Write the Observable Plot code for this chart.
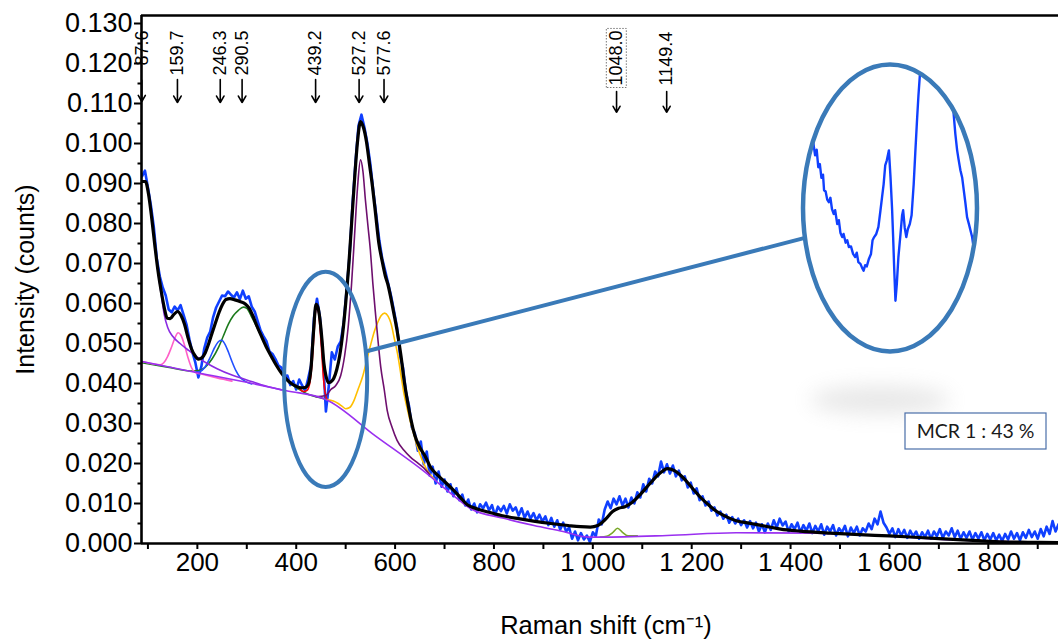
<!DOCTYPE html>
<html><head><meta charset="utf-8">
<script src="https://cdn.jsdelivr.net/npm/d3@7"></script>
<script src="https://cdn.jsdelivr.net/npm/@observablehq/plot@0.6"></script>
<style>
html,body{margin:0;padding:0;background:#fff;}
#chart{position:relative;width:1058px;height:641px;overflow:hidden;background:#fff;}
</style></head><body><div id="chart"></div>
<script>
// ---------- data ----------
const rawStart = 88, rawStep = 6; // instrument sampling grid (cm-1)
const rawIntensity = [
.0918,.0932,.0890,.0845,.0790,.0712,.0668,.0640,.0620,.0585,
.0578,.0592,.0583,.0596,.0572,.0548,.0510,.0478,.0452,.0415,
.0442,.0488,.0515,.0530,.0566,.0590,.0605,.0620,.0618,.0630,
.0622,.0615,.0628,.0611,.0632,.0612,.0618,.0592,.0580,.0556,
.0532,.0518,.0505,.0480,.0474,.0461,.0445,.0440,.0418,.0420,
.0396,.0406,.0385,.0410,.0395,.0382,.0412,.0445,.0565,.0612,
.0565,.0470,.0330,.0395,.0478,.0460,.0492,.0505,.0552,.0635,
.0722,.0850,.0955,.1045,.1072,.1040,.1000,.0948,.0880,.0820,
.0758,.0712,.0682,.0650,.0618,.0580,.0540,.0470,.0440,.0378,
.0345,.0290,.0275,.0232,.0255,.0198,.0230,.0170,.0192,.0150,
.0180,.0142,.0160,.0130,.0148,.0118,.0138,.0108,.0122,.0095,
.0110,.0085,.0100,.0078,.0098,.0088,.0102,.0083,.0096,.0070,
.0092,.0081,.0094,.0075,.0098,.0082,.0090,.0070,.0088,.0064,
.0080,.0062,.0076,.0058,.0072,.0055,.0068,.0046,.0064,.0042,
.0058,.0035,.0052,.0030,.0040,.0012,.0030,.0008,.0026,.0010,
.0020,.0004,.0028,.0018,.0060,.0048,.0085,.0105,.0088,.0112,
.0098,.0118,.0095,.0112,.0090,.0115,.0100,.0128,.0115,.0148,
.0130,.0162,.0150,.0180,.0168,.0205,.0178,.0198,.0175,.0195,
.0168,.0182,.0158,.0168,.0140,.0152,.0125,.0138,.0108,.0118,
.0095,.0105,.0082,.0090,.0070,.0080,.0062,.0072,.0052,.0066,
.0050,.0062,.0046,.0058,.0040,.0056,.0038,.0052,.0030,.0048,
.0028,.0050,.0034,.0058,.0040,.0062,.0045,.0055,.0030,.0048,
.0036,.0052,.0028,.0046,.0032,.0050,.0026,.0044,.0030,.0048,
.0022,.0042,.0030,.0046,.0020,.0038,.0028,.0044,.0018,.0040,
.0026,.0042,.0020,.0038,.0030,.0050,.0036,.0062,.0048,.0080,
.0052,.0040,.0024,.0038,.0016,.0036,.0020,.0034,.0014,.0032,
.0018,.0030,.0012,.0028,.0016,.0032,.0012,.0030,.0018,.0036,
.0014,.0030,.0020,.0038,.0016,.0032,.0012,.0028,.0014,.0030,
.0010,.0026,.0012,.0028,.0008,.0024,.0010,.0026,.0008,.0022,
.0006,.0024,.0010,.0030,.0012,.0026,.0008,.0028,.0014,.0034,
.0016,.0030,.0012,.0036,.0018,.0042,.0024,.0056,.0030,.0048];

const fitShift = [88,95,101,108,114,120,127,133,139,145,152,160,167,174,181,188,195,202,209,216,223,230,237,244,251,258,266,276,286,297,305,312,320,330,340,350,360,370,380,390,400,410,418,424,430,435,440,444,448,452,456,460,465,470,476,482,488,494,500,506,512,518,524,530,536,542,548,554,560,567,574,580,586,592,598,605,612,618,625,632,640,650,660,672,685,700,715,730,746,765,790,815,850,880,915,950,975,995,1010,1025,1040,1052,1065,1080,1097,1112,1125,1138,1151,1165,1178,1192,1205,1218,1232,1245,1259,1275,1290,1320,1350,1380,1420,1480,1540,1600,1660,1720,1780,1830,1880,1942];
const fitIntensity = [.0905,.0905,.0875,.0810,.0745,.0685,.0630,.0590,.0563,.0562,.0572,.0580,.0570,.0548,.0515,.0487,.0470,.0461,.0464,.0477,.0500,.0527,.0553,.0578,.0598,.0610,.0612,.0609,.0605,.0599,.0588,.0570,.0545,.0517,.0490,.0467,.0445,.0426,.0411,.0400,.0393,.0389,.0390,.0397,.0440,.0530,.0598,.0590,.0560,.0510,.0450,.0420,.0402,.0404,.0413,.0435,.0470,.0525,.0600,.0690,.0800,.0910,.1005,.1055,.1040,.1005,.0950,.0895,.0830,.0752,.0705,.0670,.0645,.0610,.0572,.0525,.0468,.0410,.0356,.0310,.0270,.0240,.0220,.0190,.0172,.0155,.0137,.0118,.0097,.0087,.0078,.0070,.0062,.0056,.0050,.0045,.0042,.0041,.0045,.0060,.0080,.0088,.0092,.0103,.0124,.0145,.0163,.0178,.0187,.0182,.0170,.0152,.0133,.0115,.0099,.0085,.0074,.0064,.0057,.0050,.0043,.0036,.0031,.0026,.0022,.0019,.0015,.0011,.0007,.0004,.0003,.0002];

const baselinePts = [[88,.0455],[200,.0427],[300,.0403],[380,.0382],[460,.0360],[560,.0269],[665,.0174],[710,.0128],[753,.0087],[820,.0063],[881,.0045],[940,.0030],[990,.0016],[1016,.0016],[1150,.0020],[1290,.0027],[1450,.0026],[1600,.0018],[1750,.0008],[1942,.0002]];
const band088 = [[88,.0905],[95,.0905],[101,.0875],[108,.0810],[114,.0745],[120,.0683],[127,.0622],[133,.0572],[140,.0540],[150,.0518],[165,.0500],[180,.0485],[200,.0466],[220,.0450],[240,.0437],[270,.0421],[300,.0409],[340,.0393],[370,.0384]];
const band160 = [[88,.0455],[110,.0449],[125,.0447],[132,.0452],[140,.0468],[148,.0492],[155,.0515],[161,.0527],[167,.0520],[174,.0496],[181,.0465],[188,.0440],[195,.0428],[210,.0423],[240,.0414],[270,.0406]];
const band246 = [[195,.0428],[205,.0430],[215,.0440],[225,.0463],[235,.0490],[243,.0505],[249,.0508],[256,.0498],[263,.0478],[270,.0455],[278,.0432],[286,.0416],[296,.0406],[310,.0399]];
const band290 = [[88,.0452],[140,.0441],[190,.0431],[205,.0433],[216,.0441],[230,.0462],[243,.0491],[253,.0520],[263,.0549],[273,.0570],[283,.0583],[293,.0591],[300,.0588],[310,.0566],[320,.0542],[330,.0516],[340,.0491],[350,.0467],[360,.0445],[371,.0426],[381,.0410],[391,.0398],[405,.0386],[420,.0375],[440,.0367],[460,.0361]];
const band439 = [[405,.0390],[415,.0380],[422,.0383],[428,.0405],[432,.0450],[436,.0525],[439,.0580],[442,.0598],[445,.0580],[448,.0540],[452,.0470],[455,.0415],[458,.0380],[462,.0360]];
const band527 = [[440,.0367],[460,.0370],[470,.0385],[480,.0395],[490,.0420],[498,.0470],[505,.0540],[512,.0650],[518,.0770],[524,.0890],[530,.0959],[535,.0930],[540,.0858],[545,.0795],[550,.0733],[555,.0650],[561,.0566],[566,.0500],[571,.0441],[578,.0385],[584,.0333],[594,.0290],[604,.0258],[618,.0233],[631,.0216],[645,.0202],[658,.0189],[670,.0172]];
const band578 = [[462,.0360],[475,.0356],[485,.0350],[493,.0343],[500,.0337],[508,.0340],[517,.0358],[525,.0385],[534,.0416],[543,.0460],[551,.0499],[558,.0530],[565,.0553],[572,.0570],[579,.0576],[586,.0568],[592,.0549],[598,.0515],[605,.0474],[612,.0420],[618,.0374],[625,.0335],[632,.0299],[639,.0268],[645,.0241],[655,.0208],[665,.0183],[680,.0160]];
const band1048 = [[1015,.0016],[1028,.0018],[1040,.0027],[1050,.0038],[1060,.0028],[1072,.0019],[1090,.0019]];

const peakShift = [87.6,159.7,246.3,290.5,439.2,527.2,577.6,1048.0,1149.4];
const peakLabel = ["87.6","159.7","246.3","290.5","439.2","527.2","577.6","1048.0","1149.4"];
const boxedLabel = "1048.0";

const yTicks = [0,0.01,0.02,0.03,0.04,0.05,0.06,0.07,0.08,0.09,0.10,0.11,0.12,0.13];
const yMinorTicks = [0.005,0.015,0.025,0.035,0.045,0.055,0.065,0.075,0.085,0.095,0.105,0.115,0.125];
const xTicks = [200,400,600,800,1000,1200,1400,1600,1800];
const xMinorTicks = [100,300,500,700,900,1100,1300,1500,1700,1900];

const insetShift = [400,404,406,407.5,409,410.5,412,413.5,414.5,416,417.5,419,420.5,422,423.7,425,427,428.5,430,431.7,433,435,436.5,438,440,442,444,445.5,447,449,450.5,452,453.5,455,457,459,460.5,462,464,466,468,469.5,471,472.5,474,476,477.5,479,480,481,482.2,483.5,485,487,488.5,489.5,491,492.5,494,495.8,497.5,499.5,501,502.8,504,505.2,507,515,525,535,537.5,539,540.7,542,543.8,545.5,547,548.5,550.1,552,554.9,557];
const insetIntensity = [.0625,.0600,.0576,.0585,.0557,.0562,.0540,.0545,.0520,.0518,.0505,.0501,.0508,.0490,.0482,.0488,.0466,.0472,.0452,.0445,.0450,.0436,.0440,.0429,.0430,.0418,.0413,.0420,.0405,.0402,.0396,.0391,.0400,.0398,.0410,.0418,.0440,.0445,.0450,.0461,.0488,.0509,.0530,.0560,.0568,.0584,.0541,.0490,.0445,.0395,.0343,.0370,.0413,.0450,.0480,.0488,.0460,.0445,.0458,.0466,.0480,.0530,.0580,.0637,.0672,.0701,.0750,.0850,.0850,.0720,.0640,.0610,.0584,.0570,.0552,.0540,.0520,.0500,.0477,.0465,.0445,.0420];

const yTitle = "Intensity (counts)";
const xTitle = "Raman shift (cm\u207B\u00B9)";
const mcrLabel = "MCR 1 : 43 %";

// ---------- build ----------
const rawColor = "#1040ff";
const raw = rawIntensity.map((v, i) => ({x: rawStart + i * rawStep, y: v}));
const fit = fitShift.map((x, i) => ({x, y: fitIntensity[i]}));
const components = [
  {pts: band290, color: "#1c7a1c"},
  {pts: band160, color: "#ff5fc8"},
  {pts: band246, color: "#2250ff"},
  {pts: band439, color: "#ff0000"},
  {pts: band578, color: "#ffbf00"},
  {pts: band527, color: "#6e0f6e"},
  {pts: band088, color: "#8a2be2"},
  {pts: band1048, color: "#7aa82a"},
  {pts: baselinePts, color: "#9a30f0"}
];
function place(s) {
  if (s < 100) return {t: 0.1195, a1: 0.1158, a2: 0.1105};
  if (s > 1000) return {t: 0.1145, a1: 0.1130, a2: 0.1078};
  return {t: 0.1170, a1: 0.1160, a2: 0.11025};
}
const peaks = peakShift.map((s, i) => ({x: s, label: peakLabel[i], ...place(s)}));
const thousands = d3.formatLocale({decimal: ".", thousands: " ", grouping: [3], currency: ["", ""]}).format(",");

const xDomain = [87, 1942], yDomain = [0, 0.132];

const chart = Plot.plot({
  width: 1058, height: 641,
  marginLeft: 141, marginRight: 0, marginTop: 15, marginBottom: 98,
  x: {domain: xDomain},
  y: {domain: yDomain},
  style: {fontFamily: "'Liberation Sans', Arial, sans-serif", background: "#fff", color: "#000"},
  marks: [
    Plot.line(raw, {x: "x", y: "y", stroke: rawColor, strokeWidth: 2.6, clip: true}),
    ...components.map(c => Plot.line(c.pts, {x: d => d[0], y: d => d[1], stroke: c.color, strokeWidth: 1.6, curve: "monotone-x", clip: true})),
    Plot.line(fit, {x: "x", y: "y", stroke: "#000", strokeWidth: 3.2, curve: "monotone-x", clip: true}),
    Plot.arrow(peaks, {x1: "x", x2: "x", y1: "a1", y2: "a2", stroke: "#000", strokeWidth: 1.6, headLength: 7}),
    Plot.text(peaks, {x: "x", y: "t", text: "label", rotate: -90, textAnchor: "start", lineAnchor: "middle", fontSize: 18, fill: "#000"}),
    Plot.axisY({ticks: yTicks, tickFormat: d3.format(".3f"), tickSize: 7, tickPadding: 2, fontSize: 27, label: null, strokeWidth: 2}),
    Plot.axisY({ticks: yMinorTicks, tickFormat: () => "", tickSize: 3.5, label: null, strokeWidth: 2}),
    Plot.axisX({ticks: xTicks, tickFormat: thousands, tickSize: 6, tickPadding: 3, fontSize: 26, label: null, strokeWidth: 2}),
    Plot.axisX({ticks: xMinorTicks, tickFormat: () => "", tickSize: 6, label: null, strokeWidth: 2}),
    Plot.ruleX([xDomain[0]], {strokeWidth: 2.6}),
    Plot.ruleY([yDomain[0]], {strokeWidth: 2.6}),
    Plot.ruleY([yDomain[1]], {strokeWidth: 2.6}),
    Plot.text([yTitle], {frameAnchor: "left", textAnchor: "middle", rotate: -90, dx: -116, fontSize: 25, fill: "#000"}),
    Plot.text([xTitle], {frameAnchor: "bottom", textAnchor: "middle", dx: 6, dy: 82, lineAnchor: "middle", fontSize: 25.5, fill: "#000"})
  ]
});
const root = document.getElementById("chart");
chart.style.position = "absolute"; chart.style.left = "0"; chart.style.top = "0";
root.append(chart);
const xs = chart.scale("x"), ys = chart.scale("y");

// dotted box around the boxed peak label
d3.select(chart).selectAll("text").filter(function () { return this.textContent === boxedLabel; }).each(function () {
  const bb = this.getBBox();
  d3.select(this.parentNode).append("rect")
    .attr("transform", this.getAttribute("transform"))
    .attr("x", bb.x - 2).attr("y", bb.y).attr("width", bb.width + 4).attr("height", bb.height)
    .attr("fill", "none").attr("stroke", "#777").attr("stroke-width", 1).attr("stroke-dasharray", "1.5,1.5");
});

// magnified inset
const big = {cx: 890, cy: 208, rx: 87, ry: 143.5};
const insetData = insetShift.map((x, i) => ({x, y: insetIntensity[i]}));
const inset = Plot.plot({
  width: 2 * big.rx, height: 2 * big.ry, margin: 0,
  x: {domain: [395, 560], axis: null}, y: {domain: [0.026, 0.072], axis: null},
  style: {background: "transparent"},
  marks: [Plot.line(insetData, {x: "x", y: "y", stroke: rawColor, strokeWidth: 2.4})]
});
const insetBox = document.createElement("div");
Object.assign(insetBox.style, {position: "absolute", left: (big.cx - big.rx) + "px", top: (big.cy - big.ry) + "px",
  width: 2 * big.rx + "px", height: 2 * big.ry + "px",
  clipPath: `ellipse(${big.rx}px ${big.ry}px at ${big.rx}px ${big.ry}px)`});
insetBox.append(inset);
root.append(insetBox);

// overlay annotations
const ov = d3.create("svg").attr("width", 1058).attr("height", 641)
  .style("position", "absolute").style("left", 0).style("top", 0).style("pointer-events", "none");
ov.append("defs").append("filter").attr("id", "blur").attr("x", "-50%").attr("y", "-100%").attr("width", "200%").attr("height", "300%")
  .append("feGaussianBlur").attr("stdDeviation", 10);
ov.append("ellipse").attr("cx", 880).attr("cy", 400).attr("rx", 70).attr("ry", 14).attr("fill", "#cccccc").attr("opacity", 0.45).attr("filter", "url(#blur)");
const ringColor = "#3a7ab8";
const zc = {x: 460.5, y: 0.0409, hx: 84, hy: 0.0269};
const scx = xs.apply(zc.x), scy = ys.apply(zc.y);
const srx = xs.apply(zc.x + zc.hx) - scx, sry = ys.apply(zc.y - zc.hy) - scy;
ov.append("ellipse").attr("cx", scx).attr("cy", scy).attr("rx", srx).attr("ry", sry)
  .attr("fill", "none").attr("stroke", ringColor).attr("stroke-width", 4);
const a0 = 15 * Math.PI / 180, a1 = 168 * Math.PI / 180;
ov.append("line")
  .attr("x1", scx + srx * Math.cos(a0)).attr("y1", scy - sry * Math.sin(a0))
  .attr("x2", big.cx + big.rx * Math.cos(a1)).attr("y2", big.cy + big.ry * Math.sin(Math.PI - a1))
  .attr("stroke", ringColor).attr("stroke-width", 4);
ov.append("ellipse").attr("cx", big.cx).attr("cy", big.cy).attr("rx", big.rx).attr("ry", big.ry)
  .attr("fill", "none").attr("stroke", ringColor).attr("stroke-width", 4.5);
ov.append("rect").attr("x", 905).attr("y", 413).attr("width", 141).attr("height", 36)
  .attr("fill", "#fff").attr("stroke", "#4a6ea8").attr("stroke-width", 1.2);
ov.append("text").attr("x", 975.5).attr("y", 437.5).attr("text-anchor", "middle")
  .attr("font-family", "Lato, 'Open Sans', sans-serif").attr("font-size", 19.5).attr("fill", "#1a1a1a").text(mcrLabel);
root.append(ov.node());
</script></body></html>
